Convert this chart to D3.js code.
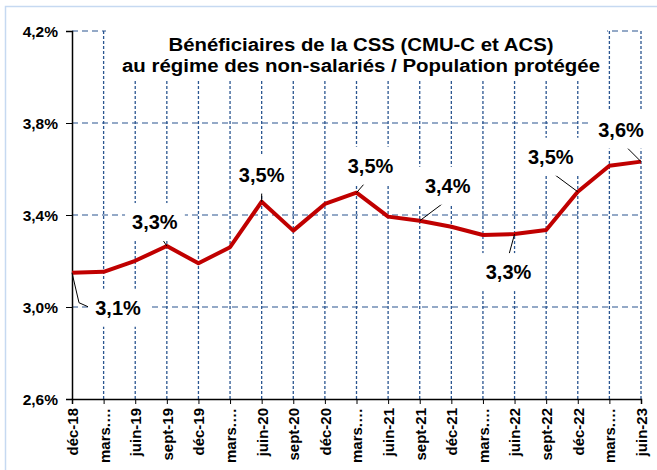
<!DOCTYPE html>
<html>
<head>
<meta charset="utf-8">
<script src="https://cdn.jsdelivr.net/npm/d3@7"></script>
<style>
  body { margin: 0; background: #fff; }
  text { font-family: Arial, "Liberation Sans", sans-serif; font-weight: bold; }
</style>
</head>
<body>
<div id="chart"></div>
<script>
const periods = ["déc-18","mars-19","juin-19","sept-19","déc-19","mars-20","juin-20","sept-20","déc-20","mars-21",
                 "juin-21","sept-21","déc-21","mars-22","juin-22","sept-22","déc-22","mars-23","juin-23"];
const tickLabels = ["déc-18","mars.…","juin-19","sept-19","déc-19","mars.…","juin-20","sept-20","déc-20","mars.…",
                    "juin-21","sept-21","déc-21","mars.…","juin-22","sept-22","déc-22","mars.…","juin-23"];
const ratio = [3.149,3.153,3.201,3.265,3.19,3.26,3.458,3.332,3.448,3.497,
               3.393,3.375,3.349,3.313,3.317,3.335,3.501,3.614,3.632];
const yTicks = [2.6, 3.0, 3.4, 3.8, 4.2];
const labelled = [0, 3, 6, 9, 11, 14, 16, 18];
const titleLines = ["Bénéficiaires de la CSS (CMU-C et ACS)", "au régime des non-salariés / Population protégée"];

// label placement: text centre offset (dx,dy) and leader start, relative to the point
const labelPos = {
  0:  { dx: 46,  dy: 35,  leader: [[16, 34], [7, 30]] },
  3:  { dx: -12, dy: -24, leader: [[-4, -6]] },
  6:  { dx: 0,   dy: -27, leader: [[0, -13]] },
  9:  { dx: 14,  dy: -27, leader: [[13, -15]] },
  11: { dx: 28,  dy: -35, leader: [[28, -21]] },
  14: { dx: -6,  dy: 38,  leader: [[-6, 22]] },
  16: { dx: -27, dy: -35, leader: [[-27, -20]] },
  18: { dx: -20, dy: -32, leader: [[-21, -21]] }
};

const W = 657, H = 470;
const svg = d3.select("#chart").append("svg").attr("width", W).attr("height", H);

// outer border
svg.append("rect").attr("x", 5.5).attr("y", 6.5).attr("width", 660).attr("height", 480)
  .attr("fill", "#fff").attr("stroke", "#c6d9f1").attr("stroke-width", 1.5);

const x = d3.scalePoint().domain(periods).range([72, 641]);
const y = d3.scaleLinear().domain([2.6, 4.2]).range([399, 31]);
const gridColor = "#2a5590";

// horizontal grid
svg.append("g").selectAll("line").data(yTicks.slice(1)).join("line")
  .attr("x1", 72).attr("x2", 641)
  .attr("y1", d => y(d)).attr("y2", d => y(d))
  .attr("stroke", gridColor).attr("stroke-width", 1.2).attr("stroke-dasharray", "6,4");

// vertical grid
svg.append("g").selectAll("line").data(periods.slice(1)).join("line")
  .attr("x1", d => x(d)).attr("x2", d => x(d))
  .attr("y1", y(4.2)).attr("y2", y(2.6))
  .attr("stroke", gridColor).attr("stroke-width", 1.3).attr("stroke-dasharray", "3,2");

// title with white box
svg.append("rect").attr("x", 106).attr("y", 28).attr("width", 501).attr("height", 52).attr("fill", "#fff");
const titleWidths = [385, 478];
svg.append("g").selectAll("text").data(titleLines).join("text")
  .attr("x", 361).attr("y", (d, i) => 51 + i * 21)
  .attr("text-anchor", "middle").attr("font-size", "18px").attr("fill", "#000")
  .attr("textLength", (d, i) => titleWidths[i]).attr("lengthAdjust", "spacingAndGlyphs")
  .text(d => d);

const fmt = v => d3.format(".1f")(v).replace(".", ",") + "%";

// label boxes
const labels = svg.append("g");
labelled.forEach(i => {
  const p = labelPos[i];
  const cx = x(periods[i]) + p.dx, cy = y(ratio[i]) + p.dy;
  const t = labels.append("text").attr("x", cx).attr("y", cy + 7)
    .attr("text-anchor", "middle").attr("font-size", "20px").text(fmt(ratio[i]));
  const b = t.node().getBBox();
  labels.insert("rect", "text").attr("x", b.x - 7).attr("y", b.y - 8)
    .attr("width", b.width + 14).attr("height", b.height + 16).attr("fill", "#fff");
});

// axes
const yAxis = d3.axisLeft(y).tickValues(yTicks).tickSize(6).tickFormat(fmt);
const gy = svg.append("g").attr("transform", "translate(72,0)").call(yAxis);
gy.select(".domain").attr("stroke", "#000").attr("stroke-width", 1.5);
gy.selectAll(".tick line").attr("stroke", "#000");
gy.selectAll("text").attr("font-size", "15.5px").attr("x", -14).attr("dy", "0.35em").attr("fill", "#000");

const xAxis = d3.axisBottom(x).tickSize(5).tickFormat((d, i) => tickLabels[i]);
const gx = svg.append("g").attr("transform", "translate(0,399)").call(xAxis);
gx.select(".domain").attr("stroke", "#000").attr("stroke-width", 1.5);
gx.selectAll(".tick line").attr("stroke", "#000");
gx.selectAll("text")
  .attr("font-size", "15px").attr("fill", "#000")
  .attr("transform", "rotate(-90)")
  .attr("text-anchor", "end").attr("x", -9).attr("y", 0).attr("dy", "0.36em");

// series
const line = d3.line().x((d, i) => x(periods[i])).y(d => y(d));
svg.append("path").datum(ratio).attr("d", line)
  .attr("fill", "none").attr("stroke", "#c00000").attr("stroke-width", 4).attr("stroke-linejoin", "round");

// leader lines, then label text on top
labelled.forEach(i => {
  const px = x(periods[i]), py = y(ratio[i]);
  const pts = labelPos[i].leader.map(([a, b]) => [px + a, py + b]).concat([[px, py]]);
  svg.append("path").attr("d", d3.line()(pts)).attr("fill", "none").attr("stroke", "#000").attr("stroke-width", 1);
});
labels.raise();
</script>
</body>
</html>
